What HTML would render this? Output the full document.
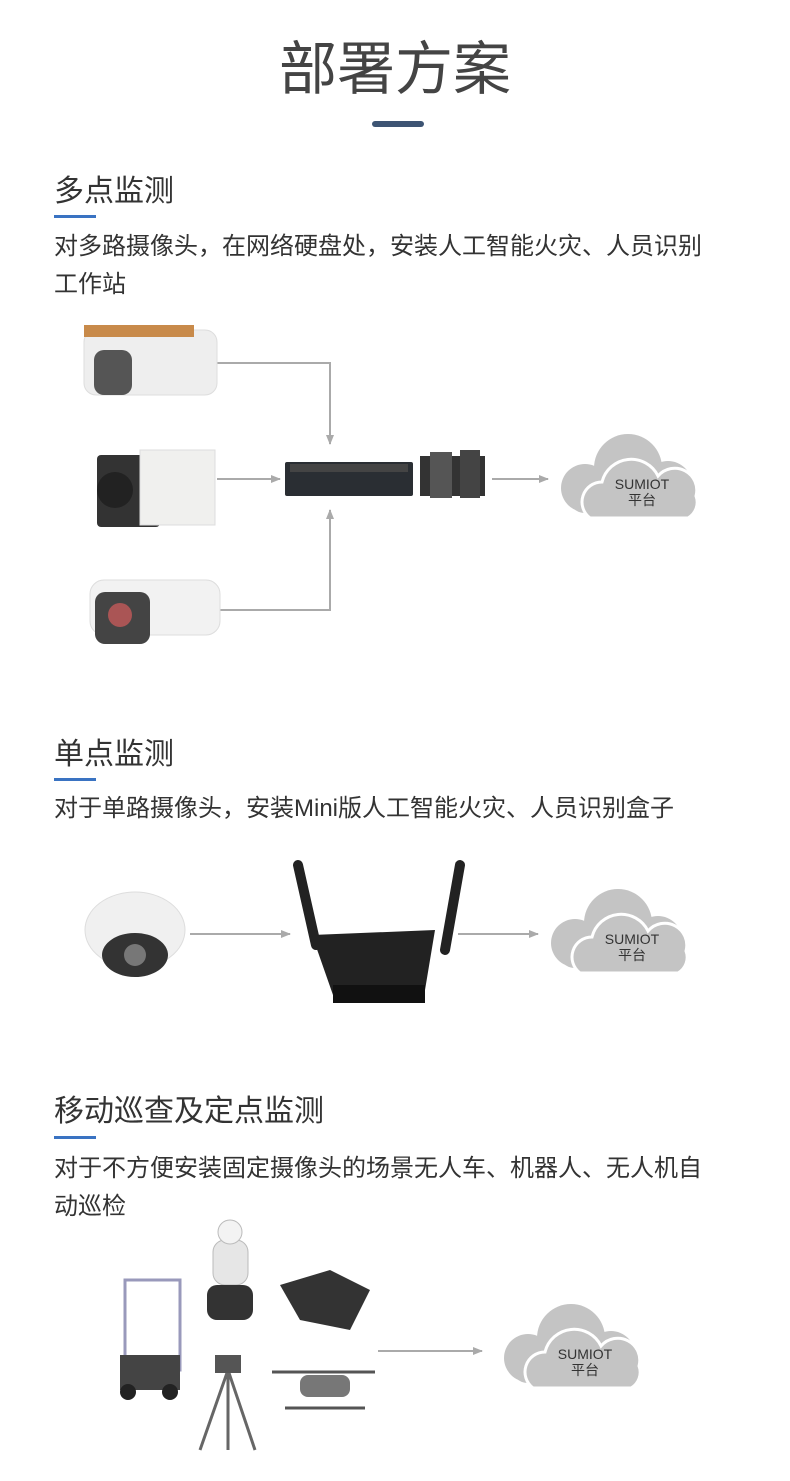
<!DOCTYPE html>
<html><head><meta charset="utf-8"><style>
body{margin:0;width:790px;height:1481px;background:#fff;position:relative;overflow:hidden;font-family:"Liberation Sans","Noto Sans CJK SC",sans-serif;color:#333}
.a{position:absolute}
.t{font-size:58px;color:#444;left:0;width:790px;text-align:center;top:22px}
.h{font-size:30px;color:#333;left:54px}
.ul{background:#3a73c2;height:3px;width:42px;left:54px}
.p{font-size:24px;line-height:38px;left:54px;width:660px}
svg{position:absolute;left:0;top:0}
</style></head><body>
<div class="a t">部署方案</div>
<div class="a" style="left:372px;top:121px;width:52px;height:6px;background:#3d5473;border-radius:3px"></div>

<div class="a h" style="top:166px">多点监测</div>
<div class="a ul" style="top:215px"></div>
<div class="a p" style="top:228px">对多路摄像头，在网络硬盘处，安装人工智能火灾、人员识别工作站</div>

<div class="a h" style="top:729px">单点监测</div>
<div class="a ul" style="top:778px"></div>
<div class="a p" style="top:790px">对于单路摄像头，安装Mini版人工智能火灾、人员识别盒子</div>

<div class="a h" style="top:1086px">移动巡查及定点监测</div>
<div class="a ul" style="top:1136px"></div>
<div class="a p" style="top:1150px">对于不方便安装固定摄像头的场景无人车、机器人、无人机自动巡检</div>

<svg width="790" height="1481">
<defs>
<marker id="m" markerWidth="10" markerHeight="8" refX="9" refY="4" orient="auto" markerUnits="userSpaceOnUse"><path d="M0,0L10,4L0,8z" fill="#aaa"/></marker>
<g id="cloud">
<g fill="#c4c4c4"><circle cx="35" cy="58" r="24"/><circle cx="78" cy="38" r="34"/><circle cx="118" cy="55" r="24"/><rect x="20" y="55" width="120" height="28" rx="14"/></g>
<g fill="#c4c4c4" stroke="#fff" stroke-width="3"><path d="M40,88 a20,20 0 0 1 12,-36 a30,30 0 0 1 56,-6 a22,22 0 0 1 38,20 a18,18 0 0 1 -8,22 z"/></g>
</g>
</defs>
<g stroke="#aaa" stroke-width="2" fill="none">
<path d="M217,363H330V444" marker-end="url(#m)"/>
<path d="M217,479H280" marker-end="url(#m)"/>
<path d="M217,610H330V510" marker-end="url(#m)"/>
<path d="M492,479H548" marker-end="url(#m)"/>
<path d="M190,934H290" marker-end="url(#m)"/>
<path d="M458,934H538" marker-end="url(#m)"/>
<path d="M378,1351H482" marker-end="url(#m)"/>
</g>
<rect x="84" y="330" width="133" height="65" rx="12" fill="#eee" stroke="#ddd"/>
<rect x="84" y="325" width="110" height="12" fill="#c88a4a"/>
<rect x="94" y="350" width="38" height="45" rx="10" fill="#555"/>
<rect x="97" y="455" width="63" height="72" rx="4" fill="#333"/><rect x="140" y="450" width="75" height="75" fill="#f0f0ee" stroke="#ddd"/><circle cx="115" cy="490" r="18" fill="#222"/>
<rect x="90" y="580" width="130" height="55" rx="14" fill="#f2f2f2" stroke="#ddd"/><rect x="95" y="592" width="55" height="52" rx="10" fill="#444"/><circle cx="120" cy="615" r="12" fill="#a55"/>
<rect x="285" y="462" width="128" height="34" rx="2" fill="#2a2e33"/><rect x="290" y="464" width="118" height="8" fill="#444"/>
<rect x="420" y="456" width="65" height="40" fill="#333"/><rect x="430" y="452" width="22" height="46" fill="#555"/><rect x="460" y="450" width="20" height="48" fill="#444"/>
<use href="#cloud" x="550" y="430"/>
<ellipse cx="135" cy="930" rx="50" ry="38" fill="#f0f0f0" stroke="#ddd"/><ellipse cx="135" cy="955" rx="33" ry="22" fill="#333"/><circle cx="135" cy="955" r="11" fill="#777"/>
<g stroke="#222" stroke-width="10" stroke-linecap="round"><line x1="298" y1="865" x2="316" y2="945"/><line x1="460" y1="865" x2="445" y2="950"/></g>
<path d="M312,935L435,930L425,990L333,995z" fill="#222"/><rect x="333" y="985" width="92" height="18" fill="#111"/>
<use href="#cloud" x="540" y="885"/>
<rect x="125" y="1280" width="55" height="90" fill="none" stroke="#99b" stroke-width="3"/><rect x="120" y="1355" width="60" height="35" fill="#444"/><circle cx="128" cy="1392" r="8" fill="#222"/><circle cx="170" cy="1392" r="8" fill="#222"/>
<rect x="213" y="1240" width="35" height="45" rx="12" fill="#e6e6e6" stroke="#bbb"/><circle cx="230" cy="1232" r="12" fill="#f3f3f3" stroke="#bbb"/><rect x="207" y="1285" width="46" height="35" rx="10" fill="#333"/>
<path d="M280,1285L330,1270L370,1290L350,1330L300,1320z" fill="#333"/>
<g stroke="#666" stroke-width="3"><line x1="228" y1="1370" x2="200" y2="1450"/><line x1="228" y1="1370" x2="255" y2="1450"/><line x1="228" y1="1370" x2="228" y2="1450"/></g><rect x="215" y="1355" width="26" height="18" fill="#555"/>
<rect x="300" y="1375" width="50" height="22" rx="8" fill="#777"/><g stroke="#555" stroke-width="3"><line x1="272" y1="1372" x2="375" y2="1372"/><line x1="285" y1="1408" x2="365" y2="1408"/></g>
<use href="#cloud" x="493" y="1300"/>
<g font-size="14" fill="#333" text-anchor="middle" font-family="Liberation Sans,Noto Sans CJK SC,sans-serif">
<text x="642" y="489">SUMIOT</text><text x="642" y="505">平台</text>
<text x="632" y="944">SUMIOT</text><text x="632" y="960">平台</text>
<text x="585" y="1359">SUMIOT</text><text x="585" y="1375">平台</text>
</g>
</svg>
</body></html>
